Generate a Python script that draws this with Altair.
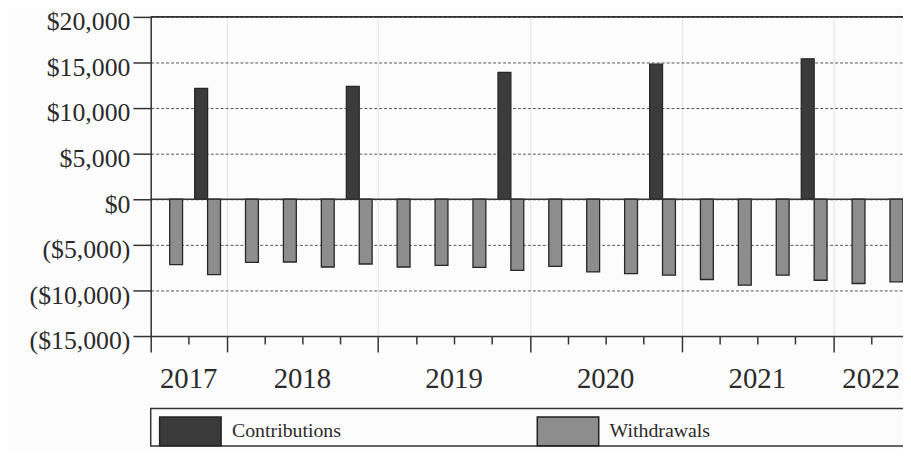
import altair as alt
import pandas as pd

# ---- data ----
slots = list(range(20))  # quarterly slots, 2017 Q1 .. 2021 Q4
withdrawals = [-7170, -8260, -6920, -6880, -7430, -7100, -7430, -7250, -7460, -7790,
               -7360, -7970, -8150, -8330, -8800, -9420, -8330, -8880, -9240, -9060]
contrib_slots = [1, 5, 9, 13, 17]
contributions = [12170, 12390, 13910, 14820, 15400]

year_labels = ["2017", "2018", "2019", "2020", "2021", "2022"]
year_label_pos = [1, 4, 8, 12, 16, 19]

y_ticks = [-15000, -10000, -5000, 0, 5000, 10000, 15000, 20000]
x_ticks = list(range(20))
major_ticks = [0, 2, 6, 10, 14, 18]
series = ["Contributions", "Withdrawals"]
colors = ["#3b3b3b", "#8d8d8d"]

rows = [{"series": "Contributions", "slot": s, "value": v} for s, v in zip(contrib_slots, contributions)]
rows += [{"series": "Withdrawals", "slot": s, "value": v} for s, v in zip(slots, withdrawals)]
bars_df = pd.DataFrame(rows)
years_df = pd.DataFrame({"year": year_labels, "pos": year_label_pos})
lines_df = pd.DataFrame({"v": [0, 20000]})

W = 759
H = 322
SLOT_PX = 38.25
FONT = "Liberation Serif"
INK = "#2b2b2b"

x_scale = alt.Scale(domain=[0, W / SLOT_PX], nice=False, zero=False)
y_scale = alt.Scale(domain=[-15000, 20000], nice=False)

maj_test = "indexof(" + str(major_ticks) + ", datum.value) >= 0"

xaxis = alt.Axis(
    values=x_ticks, labels=False, title=None,
    tickSize={"condition": {"test": maj_test, "value": 16}, "value": 8},
    tickWidth=1.5, tickColor="#333333",
    domainColor="#333333", domainWidth=1.5,
    grid=True, gridColor="#e3e3e3", gridWidth=1,
    gridOpacity={"condition": {"test": maj_test, "value": 1}, "value": 0},
)

yaxis = alt.Axis(
    values=y_ticks, title=None,
    labelExpr="datum.value < 0 ? '($' + format(-datum.value, ',') + ')' : '$' + format(datum.value, ',')",
    labelFont=FONT, labelFontSize=26, labelColor=INK,
    labelPadding=3, labelOffset=5,
    tickSize=18, tickWidth=1.5, tickColor="#333333",
    domainColor="#333333", domainWidth=1.5,
    grid=True, gridDash=[3, 2], gridColor="#555555", gridWidth=1,
)

legend = alt.Legend(
    title=None, orient="none", legendX=8, legendY=386, direction="horizontal",
    symbolType="M-1,-0.47H1V0.47H-1Z", symbolSize=3844,
    symbolStrokeColor="#222222", symbolStrokeWidth=1.5, symbolOpacity=1,
    labelFont=FONT, labelFontSize=20, labelColor=INK, labelOffset=10,
    columnPadding=194, padding=0,
)

bars = alt.Chart(bars_df).transform_calculate(
    x0="datum.slot + (datum.series == 'Contributions' ? 0.16 : 0.5)",
    x1="datum.slot + (datum.series == 'Contributions' ? 0.5 : 0.84)",
).mark_bar(stroke="#262626", strokeWidth=1.3, clip=True).encode(
    x=alt.X("x0:Q", scale=x_scale, axis=xaxis),
    x2="x1:Q",
    y=alt.Y("value:Q", scale=y_scale, axis=yaxis),
    y2=alt.datum(0),
    color=alt.Color("series:N", scale=alt.Scale(domain=series, range=colors), legend=legend),
)

lines = alt.Chart(lines_df).mark_rule(color="#333333", strokeWidth=1.6).encode(
    y=alt.Y("v:Q", scale=y_scale, axis=yaxis)
)

years = alt.Chart(years_df).mark_text(
    font=FONT, fontSize=29, color=INK, baseline="middle", align="center"
).encode(
    x=alt.X("pos:Q", scale=x_scale, axis=xaxis),
    y=alt.value(365),
    text="year:N",
)

legend_box = alt.Chart(pd.DataFrame({"a": [0]})).mark_rect(
    fill="transparent", stroke="#333333", strokeWidth=1.5
).encode(
    x=alt.value(0), x2=alt.value(W + 20), y=alt.value(395), y2=alt.value(433)
)

chart = alt.layer(bars, lines, years, legend_box).properties(
    width=W, height=H,
    padding={"left": 144, "top": 7, "right": 0, "bottom": 112},
    autosize=alt.AutoSizeParams(type="none"),
    background="#fcfcfc",
).configure_view(stroke=None)

chart.save("out.html", embed_options={"renderer": "svg", "actions": False})
